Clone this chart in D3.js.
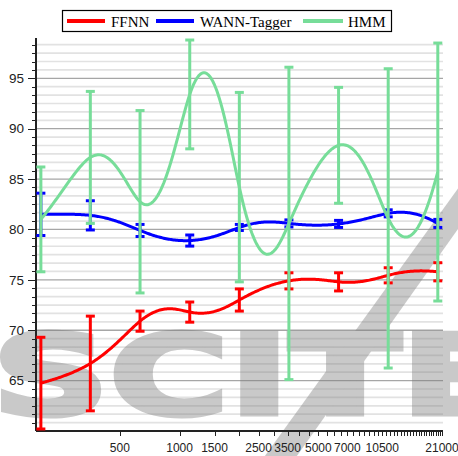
<!DOCTYPE html>
<html><head><meta charset="utf-8">
<script src="https://cdn.jsdelivr.net/npm/d3@7"></script>
<style>body{margin:0;background:#fff}svg{display:block}</style>
</head><body>
<svg id="c" width="458" height="456"></svg>
<script>
// ---- data ----
const xVals = [200, 355, 632, 1125, 2000, 3555, 6325, 11250, 20000];
const seriesNames = ["FFNN", "WANN-Tagger", "HMM"];
const ffnnMean = [64.75, 66.7, 70.9, 71.8, 73.0, 74.9, 74.8, 75.45, 75.8];
const ffnnErr  = [4.55, 4.7, 1.0, 1.0, 1.1, 0.8, 0.9, 0.75, 0.9];
const wannMean = [81.5, 81.4, 79.9, 78.9, 80.2, 80.6, 80.55, 81.6, 80.6];
const wannErr  = [2.1, 1.45, 0.6, 0.55, 0.3, 0.35, 0.35, 0.35, 0.4];
const hmmMean  = [81.0, 87.15, 82.75, 93.4, 84.2, 80.6, 88.35, 81.1, 85.7];
const hmmErr   = [5.2, 6.55, 9.05, 5.4, 9.4, 15.5, 5.75, 14.85, 12.8];
const yTickLabels = [65, 70, 75, 80, 85, 90, 95];
const xTickLabels = [500, 1000, 1500, 2500, 3500, 5000, 7000, 10500, 21000];
const colors = ["#ff0000", "#0000ff", "#77dd99"];

const svg = d3.select("#c");
const L = 36, R = 442, T = 38, B = 431;
const x = d3.scaleLog().domain([189, 21000]).range([L, R]);
const y = d3.scaleLinear().domain([60, 99]).range([B, T]);

// natural cubic spline in data (linear x) space
function naturalSpline(xs, ys) {
  const n = xs.length, h = [], M = new Array(n).fill(0);
  for (let i = 0; i < n - 1; i++) h.push(xs[i + 1] - xs[i]);
  const a = [], b = [], c = [], d = [];
  for (let i = 1; i < n - 1; i++) {
    a.push(h[i - 1]); b.push(2 * (h[i - 1] + h[i])); c.push(h[i]);
    d.push(6 * ((ys[i + 1] - ys[i]) / h[i] - (ys[i] - ys[i - 1]) / h[i - 1]));
  }
  const m = d.length;
  for (let i = 1; i < m; i++) {
    const w = a[i] / b[i - 1];
    b[i] -= w * c[i - 1]; d[i] -= w * d[i - 1];
  }
  const sol = new Array(m);
  sol[m - 1] = d[m - 1] / b[m - 1];
  for (let i = m - 2; i >= 0; i--) sol[i] = (d[i] - c[i] * sol[i + 1]) / b[i];
  for (let i = 0; i < m; i++) M[i + 1] = sol[i];
  return function (t) {
    let i = 0;
    while (i < n - 2 && t > xs[i + 1]) i++;
    const hh = h[i], A = xs[i + 1] - t, Bv = t - xs[i];
    return M[i] * A * A * A / (6 * hh) + M[i + 1] * Bv * Bv * Bv / (6 * hh)
      + (ys[i] / hh - M[i] * hh / 6) * A + (ys[i + 1] / hh - M[i + 1] * hh / 6) * Bv;
  };
}

// grid
const minorY = d3.range(0, 47).map(k => 60 + k * 5 / 6);
const isMajor = v => Math.abs(v / 5 - Math.round(v / 5)) < 0.01;
const g = svg.append("g");
g.selectAll("line.mn").data(minorY.filter(v => v > 60.01 && !isMajor(v)))
  .enter().append("line")
  .attr("x1", L).attr("x2", R + 1).attr("y1", d => y(d)).attr("y2", d => y(d))
  .attr("stroke", "#e2e2e2").attr("stroke-width", 1.7);
g.selectAll("line.mj").data(yTickLabels).enter().append("line")
  .attr("x1", L).attr("x2", R + 1).attr("y1", d => y(d)).attr("y2", d => y(d))
  .attr("stroke", "#a6a6a6").attr("stroke-width", 1.3);

// watermark
const wm = svg.append("g").attr("opacity", 0.4).attr("fill", "#7a7a7a").attr("stroke", "#7a7a7a");
wm.append("text").attr("x", -8).attr("y", 414)
  .attr("font-family", "DejaVu Sans").attr("font-weight", "bold").attr("font-size", 110)
  .attr("stroke-width", 5).attr("stroke-linejoin", "miter")
  .attr("textLength", 520).attr("lengthAdjust", "spacingAndGlyphs").text("SCITE");
wm.append("path").attr("stroke", "none").attr("d", "M262,460 L294,460 L470,212 L470,172 Z");

// axes
const ax = svg.append("g").attr("stroke", "#222").attr("shape-rendering", "crispEdges");
ax.append("line").attr("x1", L).attr("x2", L).attr("y1", T).attr("y2", B).attr("stroke-width", 1.5);
ax.append("line").attr("x1", L).attr("x2", R + 1).attr("y1", B).attr("y2", B).attr("stroke-width", 1.5);
ax.selectAll("line.yt").data(minorY.slice(1)).enter().append("line")
  .attr("x1", d => isMajor(d) ? L - 8 : L - 4)
  .attr("x2", L + 1).attr("y1", d => Math.round(y(d)) + 0.5).attr("y2", d => Math.round(y(d)) + 0.5);
const xTicks = d3.range(500, 21001, 500);
ax.selectAll("line.xt").data(xTicks).enter().append("line")
  .attr("x1", d => Math.round(x(d)) + 0.5).attr("x2", d => Math.round(x(d)) + 0.5)
  .attr("y1", B).attr("y2", B + 5);

svg.append("g").selectAll("text").data(yTickLabels).enter().append("text")
  .attr("x", 24).attr("y", d => y(d)).attr("dy", "0.35em").attr("text-anchor", "end")
  .attr("font-family", "Liberation Sans").attr("font-size", 13.5).attr("fill", "#222").text(d => d);
svg.append("g").selectAll("text").data(xTickLabels).enter().append("text")
  .attr("x", d => x(d)).attr("y", 452).attr("text-anchor", "middle")
  .attr("font-family", "Liberation Sans").attr("font-size", 12).attr("fill", "#222").text(d => d);

// series
const series = [[ffnnMean, ffnnErr], [wannMean, wannErr], [hmmMean, hmmErr]];
const line = d3.line().x(d => x(d[0])).y(d => y(d[1]));
series.forEach(([m, e], i) => {
  const sg = svg.append("g");
  const sp = naturalSpline(xVals, m);
  const pts = [];
  for (let j = 0; j < xVals.length - 1; j++) {
    const l0 = Math.log(xVals[j]), l1 = Math.log(xVals[j + 1]);
    for (let k = 0; k < 40; k++) { const xv = Math.exp(l0 + (l1 - l0) * k / 40); pts.push([xv, sp(xv)]); }
  }
  pts.push([xVals[xVals.length - 1], m[m.length - 1]]);
  sg.append("path").attr("d", line(pts))
    .attr("fill", "none").attr("stroke", colors[i]).attr("stroke-width", 3).attr("stroke-linejoin", "round");
  xVals.forEach((xv, j) => {
    const cx = x(xv), y1 = y(m[j] + e[j]), y2 = y(m[j] - e[j]);
    sg.append("line").attr("x1", cx).attr("x2", cx).attr("y1", y1).attr("y2", y2)
      .attr("stroke", colors[i]).attr("stroke-width", 3);
    [y1, y2].forEach(yy => sg.append("line").attr("x1", cx - 4.5).attr("x2", cx + 4.5)
      .attr("y1", yy).attr("y2", yy).attr("stroke", colors[i]).attr("stroke-width", 3));
  });
});

// legend
const lg = svg.append("g");
lg.append("rect").attr("x", 62.5).attr("y", 10.5).attr("width", 329).attr("height", 21)
  .attr("fill", "#fff").attr("stroke", "#000").attr("stroke-width", 1.2);
const lx = [[67, 105, 111], [156, 194, 200], [303, 343, 348]];
seriesNames.forEach((n, i) => {
  lg.append("line").attr("x1", lx[i][0]).attr("x2", lx[i][1]).attr("y1", 21).attr("y2", 21)
    .attr("stroke", colors[i]).attr("stroke-width", 4);
  lg.append("text").attr("x", lx[i][2]).attr("y", 26.5).attr("font-family", "Liberation Serif")
    .attr("font-size", 15).attr("fill", "#000").text(n);
});
</script>
</body></html>
